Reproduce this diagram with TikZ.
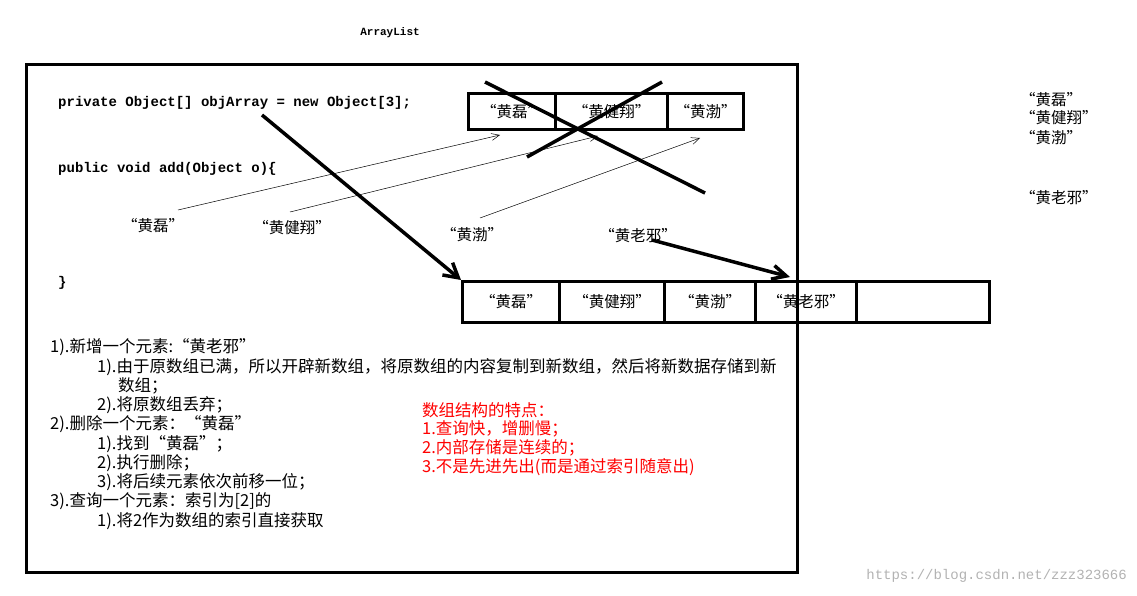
\documentclass[tikz,border=0pt]{standalone}
\usepackage{fontspec}
\setmainfont{Noto Sans CJK SC}
\newfontfamily\cjk{Noto Sans CJK SC}
\setmonofont{Liberation Mono}
\usetikzlibrary{arrows.meta}
\begin{document}
\begin{tikzpicture}[x=1pt,y=-1pt,
  every node/.style={inner sep=0pt,font=\fontsize{15.5}{18}\selectfont},
  code/.style={anchor=west,font=\ttfamily\bfseries\fontsize{14}{16}\selectfont},
  txt/.style={anchor=west},
  low/.style={anchor=west,font=\fontsize{16.5}{18}\selectfont},
  red/.style={anchor=west,text=red,font=\fontsize{16.5}{18}\selectfont},
  heavy/.style={line width=3.5pt},
  thin/.style={line width=0.5pt,-{Straight Barb[length=8pt,width=7pt]}},
  cell/.style={draw,line width=3pt,minimum height=36pt,anchor=north west}]
\useasboundingbox (0,0) rectangle (1137,596);
\node[font=\ttfamily\bfseries\fontsize{11}{13}\selectfont] (title) at (390,33) {ArrayList};
\draw[line width=3pt] (26,65) rectangle (797,572);
\node[code] (c1) at (58,103) {private Object[] objArray = new Object[3];};
\node[code] (c2) at (58,169) {public void add(Object o)\{};
\node[code] (c3) at (58,283) {\}};
% top array
\node[cell,minimum width=87pt] (t1) at (467,92) {“黄磊”};
\node[cell,minimum width=112pt] (t2) at (554,92) {“黄健翔”};
\node[cell,minimum width=76pt] (t3) at (666,92) {“黄渤”};
% bottom array
\node[cell,minimum width=97pt,minimum height=41pt] (b1) at (461,280) {“黄磊”};
\node[cell,minimum width=105pt,minimum height=41pt] (b2) at (558,280) {“黄健翔”};
\node[cell,minimum width=91pt,minimum height=41pt] (b3) at (663,280) {“黄渤”};
\node[cell,minimum width=101pt,minimum height=41pt] (b4) at (754,280) {“黄老邪”};
\node[cell,minimum width=133pt,minimum height=41pt] (b5) at (855,280) {};
% labels
\node (l1) at (153,226) {“黄磊”};
\node (l2) at (292,228) {“黄健翔”};
\node (l3) at (472,235) {“黄渤”};
\node (l4) at (638,236) {“黄老邪”};
\coordinate (a1) at (500,135);
\coordinate (a2) at (598,136);
\coordinate (a3) at (700,138);
\draw[thin] (178,210) -- (a1);
\draw[thin] (290,212) -- (a2);
\draw[thin] (480,218) -- (a3);
% X
\coordinate (x1) at (485,82); \coordinate (x2) at (705,193);
\coordinate (x3) at (527,157); \coordinate (x4) at (662,82);
\draw[heavy] (x1) -- (x2);
\draw[heavy] (x3) -- (x4);
% big arrows
\coordinate (p0) at (262,115);
\draw[heavy,-{Straight Barb[length=14pt,width=16pt]}] (p0) -- (b1.north west);
\coordinate (q0) at (652,240);
\draw[heavy,-{Straight Barb[length=14pt,width=14pt]}] (q0) -- (790,277);
% right texts
\node[txt] (r1) at (1020,100) {“黄磊”};
\node[txt] (r2) at (1020,118) {“黄健翔”};
\node[txt] (r3) at (1020,138) {“黄渤”};
\node[txt] (r4) at (1020,198) {“黄老邪”};
% lower text
\node[low] (d1) at (50,347) {1).新增一个元素:“黄老邪”};
\node[low] (d2) at (97,367) {1).由于原数组已满，所以开辟新数组，将原数组的内容复制到新数组，然后将新数据存储到新};
\node[low] (d3) at (118,386) {数组；};
\node[low] (d4) at (97,405) {2).将原数组丢弃；};
\node[low] (d5) at (50,424) {2).删除一个元素：“黄磊”};
\node[low] (d6) at (97,444) {1).找到“黄磊”；};
\node[low] (d7) at (97,463) {2).执行删除；};
\node[low] (d8) at (97,482) {3).将后续元素依次前移一位；};
\node[low] (d9) at (50,501) {3).查询一个元素：索引为[2]的};
\node[low] (d10) at (97,521) {1).将2作为数组的索引直接获取};
% red
\node[red] (e1) at (422,410) {数组结构的特点：};
\node[red] (e2) at (422,429) {1.查询快，增删慢；};
\node[red] (e3) at (422,448) {2.内部存储是连续的；};
\node[red] (e4) at (422,467) {3.不是先进先出(而是通过索引随意出)};
\node[anchor=east,text=gray!60,font=\ttfamily\fontsize{14}{16}\selectfont] (w) at (1127,576) {https://blog.csdn.net/zzz323666};
\end{tikzpicture}
\end{document}
